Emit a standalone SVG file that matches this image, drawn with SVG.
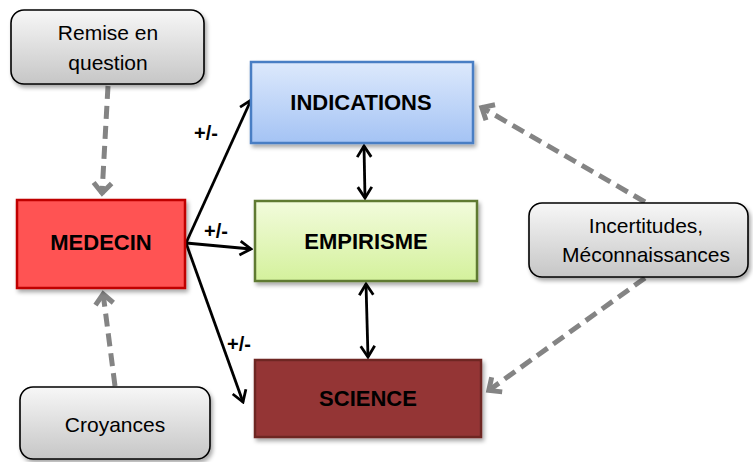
<svg xmlns="http://www.w3.org/2000/svg" width="753" height="462" viewBox="0 0 753 462">
  <style>
    .lbl { font-family: "Liberation Sans", Arial, sans-serif; fill: #000; text-anchor: middle; }
    .bold { font-weight: bold; font-size: 22px; }
    .note { font-size: 21px; }
    .pm { font-family: "Liberation Sans", Arial, sans-serif; font-weight: bold; font-size: 20px; fill: #000; }
    .solid { fill: none; stroke: #000; stroke-width: 2.8; }
    .dash { fill: none; stroke: #848484; stroke-width: 5; stroke-dasharray: 13 7; }
  </style>
  <defs>
    <linearGradient id="gGray" x1="0" y1="0" x2="0" y2="1">
      <stop offset="0" stop-color="#f7f7f7"/>
      <stop offset="1" stop-color="#c6c6c6"/>
    </linearGradient>
    <linearGradient id="gBlue" x1="0" y1="0" x2="0" y2="1">
      <stop offset="0" stop-color="#dde9fc"/>
      <stop offset="1" stop-color="#a4c3f4"/>
    </linearGradient>
    <linearGradient id="gGreen" x1="0" y1="0" x2="0" y2="1">
      <stop offset="0" stop-color="#f2fbdc"/>
      <stop offset="1" stop-color="#d4f19c"/>
    </linearGradient>
    <filter id="shadow" x="-10%" y="-10%" width="125%" height="135%">
      <feGaussianBlur in="SourceAlpha" stdDeviation="2"/>
      <feOffset dx="2" dy="3" result="b"/>
      <feComponentTransfer><feFuncA type="linear" slope="0.35"/></feComponentTransfer>
      <feMerge><feMergeNode/><feMergeNode in="SourceGraphic"/></feMerge>
    </filter>
    <marker id="headBlack" markerUnits="userSpaceOnUse" viewBox="-14 -9 16 18" markerWidth="16" markerHeight="18" refX="0" refY="0" orient="auto-start-reverse">
      <path d="M -11 -7 L 0 0 L -11 7" fill="none" stroke="#000" stroke-width="2.8" stroke-linejoin="miter"/>
    </marker>
    <marker id="headGray" markerUnits="userSpaceOnUse" viewBox="-14 -12 17 24" markerWidth="17" markerHeight="24" refX="0" refY="0" orient="auto">
      <path d="M -11 -9 L -1 0 L -11 9" fill="none" stroke="#848484" stroke-width="5" stroke-linejoin="miter"/>
    </marker>
  </defs>

  <!-- connectors -->
  <g id="connectors">
    <line class="dash" x1="108" y1="86" x2="102" y2="194" marker-end="url(#headGray)"/>
    <line class="dash" x1="115" y1="386" x2="103" y2="293" marker-end="url(#headGray)"/>
    <line class="dash" x1="645" y1="202" x2="481" y2="107" marker-end="url(#headGray)"/>
    <line class="dash" x1="645" y1="278" x2="488" y2="391" marker-end="url(#headGray)"/>

    <line class="solid" x1="186" y1="243" x2="251" y2="100" marker-end="url(#headBlack)"/>
    <line class="solid" x1="186" y1="243" x2="251" y2="249" marker-end="url(#headBlack)"/>
    <line class="solid" x1="186" y1="243" x2="243" y2="402" marker-end="url(#headBlack)"/>

    <line class="solid" x1="364" y1="146" x2="365" y2="198" marker-start="url(#headBlack)" marker-end="url(#headBlack)"/>
    <line class="solid" x1="366" y1="284" x2="368" y2="357" marker-start="url(#headBlack)" marker-end="url(#headBlack)"/>

    <text class="pm" x="194" y="140">+/-</text>
    <text class="pm" x="204" y="238">+/-</text>
    <text class="pm" x="227" y="351">+/-</text>
  </g>

  <g id="remise">
    <rect x="11" y="10" width="193" height="74" rx="13" fill="url(#gGray)" stroke="#000" stroke-width="1.6" filter="url(#shadow)"/>
    <text class="lbl note" x="108" y="40">Remise en</text>
    <text class="lbl note" x="108" y="70">question</text>
  </g>

  <g id="medecin">
    <rect x="17" y="200" width="168" height="88" fill="#ff5252" stroke="#c00000" stroke-width="2.5" filter="url(#shadow)"/>
    <text class="lbl bold" x="101" y="250">MEDECIN</text>
  </g>

  <g id="croyances">
    <rect x="20" y="387" width="190" height="72" rx="13" fill="url(#gGray)" stroke="#000" stroke-width="1.6" filter="url(#shadow)"/>
    <text class="lbl note" x="115" y="432">Croyances</text>
  </g>

  <g id="indications">
    <rect x="251" y="62" width="222" height="81" fill="url(#gBlue)" stroke="#4a7ec4" stroke-width="2.5" filter="url(#shadow)"/>
    <text class="lbl bold" x="361" y="110">INDICATIONS</text>
  </g>

  <g id="empirisme">
    <rect x="255" y="201" width="222" height="80" fill="url(#gGreen)" stroke="#5f7a30" stroke-width="2.5" filter="url(#shadow)"/>
    <text class="lbl bold" x="366" y="249">EMPIRISME</text>
  </g>

  <g id="science">
    <rect x="255" y="360" width="226" height="77" fill="#943634" stroke="#6e2624" stroke-width="2.5" filter="url(#shadow)"/>
    <text class="lbl bold" x="368" y="406">SCIENCE</text>
  </g>

  <g id="incertitudes">
    <rect x="529" y="203" width="219" height="74" rx="13" fill="url(#gGray)" stroke="#000" stroke-width="1.6" filter="url(#shadow)"/>
    <text class="lbl note" x="646" y="233">Incertitudes,</text>
    <text class="lbl note" x="646" y="262">Méconnaissances</text>
  </g>
</svg>
